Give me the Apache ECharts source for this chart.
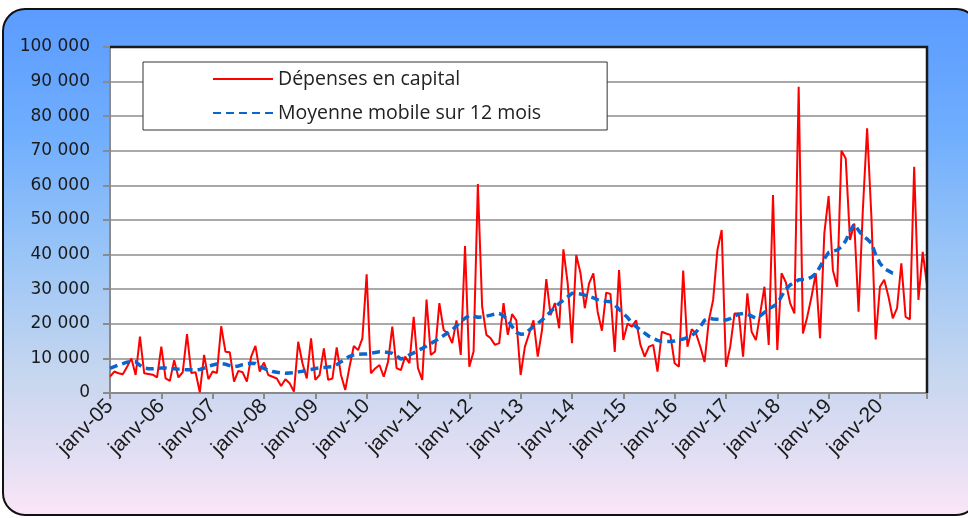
<!DOCTYPE html>
<html>
<head>
<meta charset="utf-8">
<script src="https://cdn.jsdelivr.net/npm/echarts@6/dist/echarts.min.js"></script>
<style>
  html, body { margin: 0; padding: 0; background: #ffffff; }
  #chart { width: 968px; height: 518px; }
</style>
</head>
<body>
<div id="chart"></div>
<script>
// Monthly capital expenditure, January 2005 to December 2020
const years = ['05','06','07','08','09','10','11','12','13','14','15','16','17','18','19','20'];
const monthNames = ['janv','févr','mars','avr','mai','juin','juil','août','sept','oct','nov','déc'];
const seriesNames = ['Dépenses en capital', 'Moyenne mobile sur 12 mois'];
const yTicks = { min: 0, max: 100000, step: 10000 };

const depenses = [
  4700, 6200, 5700, 5400, 7600, 10000, 5200, 16300, 5700, 5500, 5300, 4500,
  13400, 4200, 3500, 9500, 4500, 6000, 17000, 5800, 6000, 200, 11000, 4000,
  6200, 5800, 19300, 11900, 11800, 3300, 6400, 6000, 3300, 10500, 13600, 6200,
  8800, 5200, 4700, 4200, 2000, 4000, 2800, 400, 14800, 8600, 4200, 15800,
  3800, 5200, 12900, 3800, 4200, 13200, 5200, 900, 7600, 13600, 12400, 15800,
  34300, 5700, 7100, 8100, 4700, 9000, 19200, 7200, 6600, 10500, 8600, 22000,
  7200, 3800, 27000, 11000, 12000, 26000, 18200, 17200, 14400, 21000, 11000, 42500,
  7600, 12000, 60400, 25000, 16800, 15800, 13900, 14400, 26000, 16800, 22800, 21000,
  5200, 13400, 17200, 21000, 10500, 18200, 32900, 22500, 26000, 18700, 41500, 31700,
  14400, 39900, 34600, 24500, 31700, 34600, 23500, 18000, 29000, 28600, 11900, 35500,
  15300, 20100, 19200, 21000, 13900, 10500, 13400, 13900, 6200, 17700, 17200, 16800,
  8600, 7600, 35400, 13400, 18400, 17200, 13400, 9000, 21000, 26900, 41300, 47100,
  7600, 13400, 23000, 23000, 10500, 28800, 17700, 15300, 23000, 30700, 13900, 57200,
  12400, 34600, 32000, 26000, 23000, 88500, 17200, 22000, 27800, 34600, 15800, 46200,
  56900, 35500, 30700, 70000, 67800, 44200, 49000, 23500, 52900, 76500, 51000, 15500,
  30700, 32700, 27800, 21600, 24500, 37500, 22000, 21300, 65400, 26900, 40800, 31200
];

// Centred 12-month moving average (stops before the last months)
const moyenneMobile = [
  7100, 7600, 8100, 8500, 8900, 9100, 9000, 8000, 7200, 7000, 7000, 7100,
  7200, 7200, 7000, 7000, 6900, 6800, 6700, 6700, 6700, 6800, 7200, 7700,
  8100, 8400, 8500, 8300, 7900, 7600, 7800, 8200, 8500, 8600, 8500, 7800,
  7100, 6600, 6200, 6000, 5800, 5700, 5800, 5900, 6100, 6300, 6600, 6800,
  7100, 7300, 7400, 7500, 7600, 8200, 9000, 9800, 10600, 11000, 11200, 11300,
  11300, 11500, 11700, 11900, 11900, 11700, 11500, 10800, 9800, 10200, 11000, 11600,
  12300, 12900, 13600, 14300, 15000, 15800, 16600, 17400, 18200, 19400, 20600, 21600,
  22400, 22200, 21900, 22000, 22200, 22500, 22800, 23000, 22300, 21100, 19200, 17500,
  17000, 17100, 18200, 19200, 20100, 21100, 22300, 23500, 24700, 25900, 26800, 27800,
  28800, 28800, 28600, 28300, 27900, 27500, 27000, 26700, 26500, 26400, 25500, 24200,
  23000, 21800, 20300, 19200, 18200, 17300, 16400, 15800, 15200, 14900, 14900, 14900,
  15000, 15300, 15600, 16100, 16600, 17600, 19200, 21000, 21600, 21400, 21300, 21100,
  21100, 21500, 22300, 22800, 23000, 22800, 22200, 21600, 22300, 23300, 24300, 25000,
  25800, 28000, 30000, 31200, 32000, 32700, 32800, 32900, 33500, 34500, 36500, 38800,
  40600, 41000, 41300, 42300, 44000, 46800, 48800, 47000, 45400, 44500, 43300, 40000,
  37500, 36000, 35300, 34600, 34400
];

const categories = [];
years.forEach(y => monthNames.forEach(m => categories.push(m + '-' + y)));

const fmtThousands = v => String(v).replace(/\B(?=(\d{3})+(?!\d))/g, ' ');

const chart = echarts.init(document.getElementById('chart'), null, { renderer: 'canvas' });

const plot = { left: 110, top: 47, right: 927, bottom: 393 };

chart.setOption({
  animation: false,
  backgroundColor: 'transparent',
  graphic: [
    {
      type: 'rect',
      z: -10,
      silent: true,
      shape: { x: 3, y: 9, width: 975, height: 506, r: 22 },
      style: {
        fill: new echarts.graphic.LinearGradient(0, 0, 0, 1, [
          { offset: 0, color: '#5a9bff' },
          { offset: 0.25, color: '#70aefd' },
          { offset: 0.5, color: '#9cc6f6' },
          { offset: 0.72, color: '#c6d6ef' },
          { offset: 0.88, color: '#e2def3' },
          { offset: 1, color: '#fbe6f7' }
        ]),
        stroke: '#111111',
        lineWidth: 2
      }
    },
    {
      type: 'polyline',
      z: 100,
      silent: true,
      shape: { points: [[plot.left, plot.top], [plot.right, plot.top], [plot.right, plot.bottom]] },
      style: { stroke: '#1a1a1a', lineWidth: 2.5, fill: null }
    }
  ],
  grid: {
    left: plot.left,
    top: plot.top,
    right: 968 - plot.right,
    bottom: 518 - plot.bottom,
    show: true,
    backgroundColor: '#ffffff',
    borderWidth: 0
  },
  legend: {
    orient: 'vertical',
    left: 143,
    top: 62,
    data: seriesNames,
    itemWidth: 60,
    itemHeight: 14,
    itemGap: 14,
    padding: [7, 66, 7, 69],
    backgroundColor: '#ffffff',
    borderColor: '#333333',
    borderWidth: 1,
    itemStyle: { opacity: 0, borderWidth: 0 },
    textStyle: { fontFamily: 'Open Sans', fontSize: 19.5, color: '#222222' }
  },
  xAxis: {
    type: 'category',
    data: categories,
    boundaryGap: false,
    axisLine: { lineStyle: { color: '#8a8a8a', width: 2 } },
    axisTick: {
      show: true,
      length: 6,
      interval: (idx) => idx % 12 === 0 || idx === categories.length - 1,
      lineStyle: { color: '#8a8a8a', width: 2 }
    },
    axisLabel: {
      interval: (idx) => idx % 12 === 0,
      rotate: 45,
      margin: 10,
      fontFamily: 'Liberation Sans',
      fontSize: 21,
      color: '#1a1a1a'
    },
    splitLine: { show: false }
  },
  yAxis: {
    type: 'value',
    min: yTicks.min,
    max: yTicks.max,
    interval: yTicks.step,
    axisLine: { show: true, lineStyle: { color: '#8a8a8a', width: 2 } },
    axisTick: { show: true, length: 7, lineStyle: { color: '#8a8a8a', width: 2 } },
    axisLabel: {
      margin: 20,
      formatter: fmtThousands,
      fontFamily: 'DejaVu Sans',
      fontSize: 17,
      color: '#1a1a1a'
    },
    splitLine: { show: true, lineStyle: { color: '#8c8c8c', width: 1.5 } }
  },
  series: [
    {
      name: seriesNames[0],
      type: 'line',
      data: depenses,
      symbol: 'none',
      z: 2,
      lineStyle: { color: '#ff0000', width: 2 },
      itemStyle: { color: '#ff0000' }
    },
    {
      name: seriesNames[1],
      type: 'line',
      data: moyenneMobile,
      symbol: 'none',
      z: 3,
      lineStyle: { color: '#0a66cc', width: 3.5, type: [8, 5] },
      itemStyle: { color: '#0a66cc' }
    }
  ]
});
</script>
</body>
</html>
